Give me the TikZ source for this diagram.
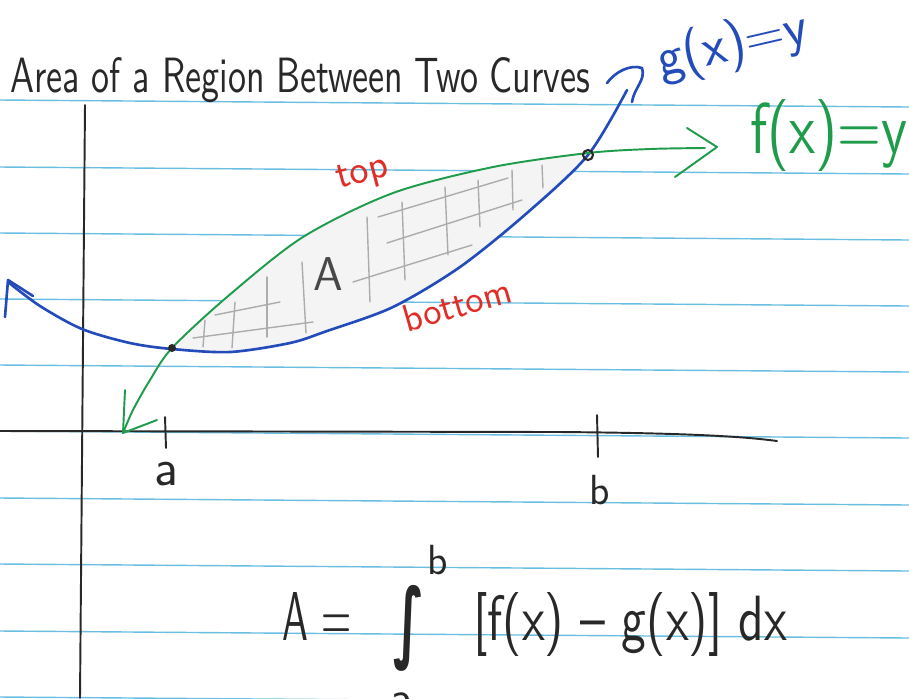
\documentclass[tikz,border=0pt]{standalone}
\usepackage{fontspec}
\usepackage{graphicx}
\newfontfamily\djv{DejaVu Sans}
\definecolor{rulecol}{RGB}{105,190,225}
\definecolor{bpen}{RGB}{35,75,185}
\definecolor{gpen}{RGB}{30,155,75}
\definecolor{rpen}{RGB}{225,45,40}
\definecolor{ink}{RGB}{40,40,40}
\tikzset{
  ruled/.style={rulecol, line width=0.8pt},
  axisline/.style={ink, line width=1.1pt, line cap=round},
  gcurve/.style={gpen, line width=1.1pt, line cap=round, line join=round},
  bcurve/.style={bpen, line width=1.5pt, line cap=round, line join=round},
  hatchline/.style={gray!65, line width=0.8pt, line cap=round},
  filldot/.style={circle, fill=ink, minimum size=0.16cm, inner sep=0pt},
  opendot/.style={circle, draw=ink, line width=1.2pt, minimum size=0.2cm, inner sep=0pt},
}
\begin{document}
\begin{tikzpicture}[x=0.02cm, y=-0.02cm]
\useasboundingbox (0,0) rectangle (909,698);
\clip (0,0) rectangle (909,698);
\fill[white] (0,0) rectangle (909,698);
% ruled paper lines
\foreach \yy in {100,167,233,299,365,431,498,564,631,697}
  \draw[ruled] (0,\yy) -- (909,\yy+7);
% shaded region
\fill[gray!9] plot[smooth] coordinates {(172,348) (227,297) (303,237) (393,193) (493,167) (588,153)}
  -- plot[smooth] coordinates {(588,155) (527,213) (460,267) (393,307) (327,331) (290,343) (230,352) (172,349)} -- cycle;
% hatching
\foreach \xa/\ya/\xb/\yb in {205/320/203/347, 235/302/232/348, 267/277/267/337, 302/262/306/333,
  367/217/370/302, 402/202/405/280, 445/187/448/255, 478/180/480/227, 512/170/513/210, 542/165/543/188,
  215/315/280/302, 193/338/313/322, 353/282/472/245, 387/243/522/200, 378/217/508/178}
  \draw[hatchline] (\xa,\ya) -- (\xb,\yb);
% axes
\coordinate (xl) at (0,431);
\coordinate (xm) at (560,432);
\coordinate (xr) at (777,441);
\draw[axisline] (xl) -- (xm) .. controls (680,433) and (740,436) .. (xr);
\coordinate (yt) at (85,105);
\coordinate (yb) at (80,698);
\draw[axisline] (yt) -- (yb);
% ticks
\draw[axisline] (165,417) -- (166,448);
\draw[axisline] (597,415) -- (598,457);
% blue curve g
\draw[bcurve] plot[smooth] coordinates {(8,282) (40,306) (82,329) (130,343) (172,349) (230,352) (290,343) (327,331) (393,307) (460,267) (527,213) (588,155) (627,90)};
\draw[bcurve] (5,317) -- (8,280) -- (33,296);
\draw[bcurve] (607,83) .. controls (615,72) and (630,64) .. (642,68) .. controls (646,80) and (634,88) .. (632,102);
% green curve f
\draw[gcurve] plot[smooth] coordinates {(123,433) (133,410) (150,380) (172,348) (227,297) (303,237) (393,193) (493,167) (588,153) (650,149) (705,148)};
\draw[gcurve] (125,390) -- (123,433) -- (157,420);
\draw[gcurve] (687,128) -- (717,147) -- (675,177);
% intersection dots
\node[filldot] (pa) at (172,348) {};
\node[opendot] (pb) at (588,155) {};
% labels
\node[anchor=base west, inner sep=0pt, text=ink] (title) at (10,92) {\resizebox{11.6cm}{0.7cm}{\sffamily Area of a Region Between Two Curves}};
\node[text=bpen, rotate=13, inner sep=0pt, font=\sffamily\fontsize{31}{33}\selectfont] (glabel) at (733,46) {g(x)=y};
\node[anchor=base west, inner sep=0pt, text=gpen] (flabel) at (750,153) {\resizebox{3.14cm}{1.08cm}{\sffamily f(x)=y}};
\node[text=rpen, rotate=15, inner sep=0pt, font=\sffamily\fontsize{23}{25}\selectfont] (toplbl) at (363,175) {top};
\node[text=rpen, rotate=16, inner sep=0pt, font=\sffamily\fontsize{22}{24}\selectfont] (botlbl) at (457,304) {bottom};
\node[text=ink!85, inner sep=0pt, font=\sffamily\fontsize{27}{29}\selectfont] (alabel) at (328,274) {A};
\node[text=ink, inner sep=0pt, font=\sffamily\fontsize{30}{32}\selectfont] (la) at (166,474) {a};
\node[text=ink, inner sep=0pt, font=\sffamily\fontsize{24}{26}\selectfont] (lb) at (600,490) {b};
% formula
\node[anchor=base west, inner sep=0pt, text=ink] (feqA) at (282,640) {\resizebox{1.38cm}{0.96cm}{\sffamily A =}};
\node[text=ink, inner sep=0pt] (fint) at (409,628) {\resizebox*{0.62cm}{1.72cm}{\djv\bfseries ∫}};
\node[text=ink, inner sep=0pt, font=\sffamily\fontsize{24}{26}\selectfont] (fb) at (438,560) {b};
\node[text=ink, inner sep=0pt, font=\sffamily\fontsize{28}{30}\selectfont] (fa) at (402,704) {a};
\node[anchor=base west, inner sep=0pt, text=ink] (fbody) at (473,640) {\resizebox{6.28cm}{0.96cm}{\sffamily [f(x) -- g(x)] dx}};
\end{tikzpicture}
\end{document}
